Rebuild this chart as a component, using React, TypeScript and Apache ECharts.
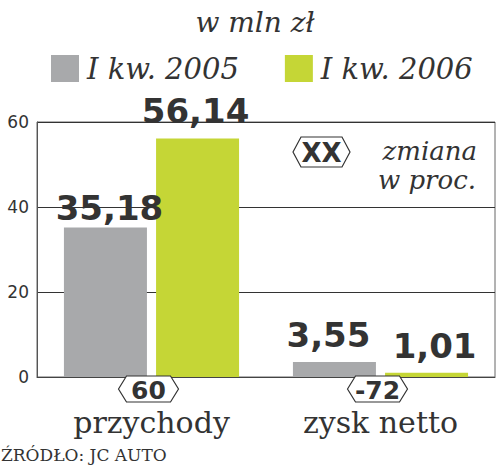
import React, { useEffect, useRef } from "react";
import * as echarts from "echarts";

const title = "w mln zł";
const categories = ["przychody", "zysk netto"];
const seriesNames = ["I kw. 2005", "I kw. 2006"];
const values2005 = [35.18, 3.55];
const values2006 = [56.14, 1.01];
const changes = ["60", "-72"];
const yMin = 0;
const yMax = 60;
const yStep = 20;
const noteBadge = "XX";
const noteLines = ["zmiana", "w proc."];
const source = "ŹRÓDŁO: JC AUTO";

// styling (not data)
const GRAY = "#a8a9ab";
const GREEN = "#c5d636";
const INK = "#333333";
const labelOffsets2005 = [[4, 8], [-6, 0]];
const labelOffsets2006 = [[-2, 0], [8, 0]];

const fmt = (v: number) => v.toFixed(2).replace(".", ",");

const hex = (cx: number, cy: number, w: number, h: number) => {
  const hw = w / 2, hh = h / 2, s = 8;
  return [
    [cx - hw, cy],
    [cx - hw + s, cy - hh],
    [cx + hw - s, cy - hh],
    [cx + hw, cy],
    [cx + hw - s, cy + hh],
    [cx - hw + s, cy + hh],
  ];
};

export default function App() {
  const ref = useRef<HTMLDivElement>(null);
  useEffect(() => {
    document.body.style.margin = "0";
    const chart = echarts.init(ref.current!, undefined, { renderer: "svg" });
    const barLabel = (offsets: number[][]) => (v: number, i: number) => ({
      value: v,
      label: { offset: offsets[i] },
    });
    const labelStyle = {
      show: true,
      position: "top",
      distance: 10,
      formatter: (p: any) => fmt(p.value),
      fontFamily: "DejaVu Sans",
      fontWeight: "bold",
      fontSize: 34,
      color: INK,
    };
    const option: any = {
      animation: false,
      backgroundColor: "#ffffff",
      grid: {
        left: 37,
        right: 5,
        top: 122,
        bottom: 91,
        show: true,
        borderColor: "#666",
        borderWidth: 1,
        backgroundColor: "transparent",
      },
      legend: {
        data: seriesNames,
        left: 46,
        top: 49,
        itemWidth: 28,
        itemHeight: 27,
        itemGap: 46,
        icon: "rect",
        textStyle: {
          fontFamily: "DejaVu Serif",
          fontStyle: "italic",
          fontSize: 29,
          color: INK,
          padding: [0, 0, 0, 3],
        },
      },
      xAxis: {
        type: "category",
        data: categories,
        axisLine: { show: true, lineStyle: { color: "#444", width: 1 } },
        axisTick: { show: false },
        axisLabel: {
          fontFamily: "DejaVu Serif",
          fontSize: 30,
          color: INK,
          margin: 30,
        },
      },
      yAxis: {
        type: "value",
        min: yMin,
        max: yMax,
        interval: yStep,
        axisLine: { show: true, lineStyle: { color: "#555", width: 1 } },
        axisTick: { show: false },
        axisLabel: {
          fontFamily: "DejaVu Sans",
          fontSize: 17,
          color: INK,
          margin: 8,
        },
        splitLine: { show: true, lineStyle: { color: "#333", width: 1 } },
      },
      series: [
        {
          name: seriesNames[0],
          type: "bar",
          data: values2005.map(barLabel(labelOffsets2005)),
          barWidth: 83,
          barGap: "11%",
          itemStyle: { color: GRAY },
          label: labelStyle,
        },
        {
          name: seriesNames[1],
          type: "bar",
          data: values2006.map(barLabel(labelOffsets2006)),
          barWidth: 83,
          barGap: "11%",
          itemStyle: { color: GREEN },
          label: labelStyle,
        },
        {
          name: "zmiana",
          type: "custom",
          z: 10,
          clip: false,
          silent: true,
          data: categories.map((_, i) => [i, 0]),
          encode: { x: 0, y: 1 },
          renderItem: (_params: any, api: any) => {
            const idx = api.value(0);
            const p = api.coord([idx, 0]);
            const cx = p[0] - 3;
            const cy = p[1] + 12;
            return {
              type: "group",
              children: [
                {
                  type: "polygon",
                  shape: { points: hex(cx, cy, 60, 26) },
                  style: { fill: "#fff", stroke: INK, lineWidth: 1.2 },
                },
                {
                  type: "text",
                  x: cx,
                  y: cy + 1,
                  style: {
                    text: changes[idx],
                    fill: INK,
                    font: 'bold 25px "DejaVu Sans"',
                    align: "center",
                    verticalAlign: "middle",
                  },
                },
              ],
            };
          },
        },
      ],
      graphic: [
        {
          type: "text",
          x: 255,
          y: 22,
          style: {
            text: title,
            fill: INK,
            font: 'italic 28px "DejaVu Serif"',
            align: "center",
            verticalAlign: "middle",
          },
        },
        {
          type: "polygon",
          shape: { points: hex(321.5, 152, 57, 30) },
          style: { fill: "#fff", stroke: INK, lineWidth: 1.2 },
          z: 100,
        },
        {
          type: "text",
          x: 321.5,
          y: 153,
          z: 101,
          style: {
            text: noteBadge,
            fill: INK,
            font: 'bold 26px "DejaVu Sans"',
            align: "center",
            verticalAlign: "middle",
          },
        },
        {
          type: "text",
          x: 477,
          y: 151,
          z: 101,
          style: {
            text: noteLines[0],
            fill: INK,
            font: 'italic 26px "DejaVu Serif"',
            align: "right",
            verticalAlign: "middle",
          },
        },
        {
          type: "text",
          x: 476,
          y: 180,
          z: 101,
          style: {
            text: noteLines[1],
            fill: INK,
            font: 'italic 26px "DejaVu Serif"',
            align: "right",
            verticalAlign: "middle",
          },
        },
        {
          type: "text",
          x: 1,
          y: 455,
          style: {
            text: source,
            fill: INK,
            font: '17px "DejaVu Serif"',
            align: "left",
            verticalAlign: "middle",
          },
        },
      ],
    };
    chart.setOption(option);
    return () => chart.dispose();
  }, []);
  return (
    <div
      ref={ref}
      style={{ position: "absolute", left: 0, top: 0, width: 500, height: 468 }}
    />
  );
}
